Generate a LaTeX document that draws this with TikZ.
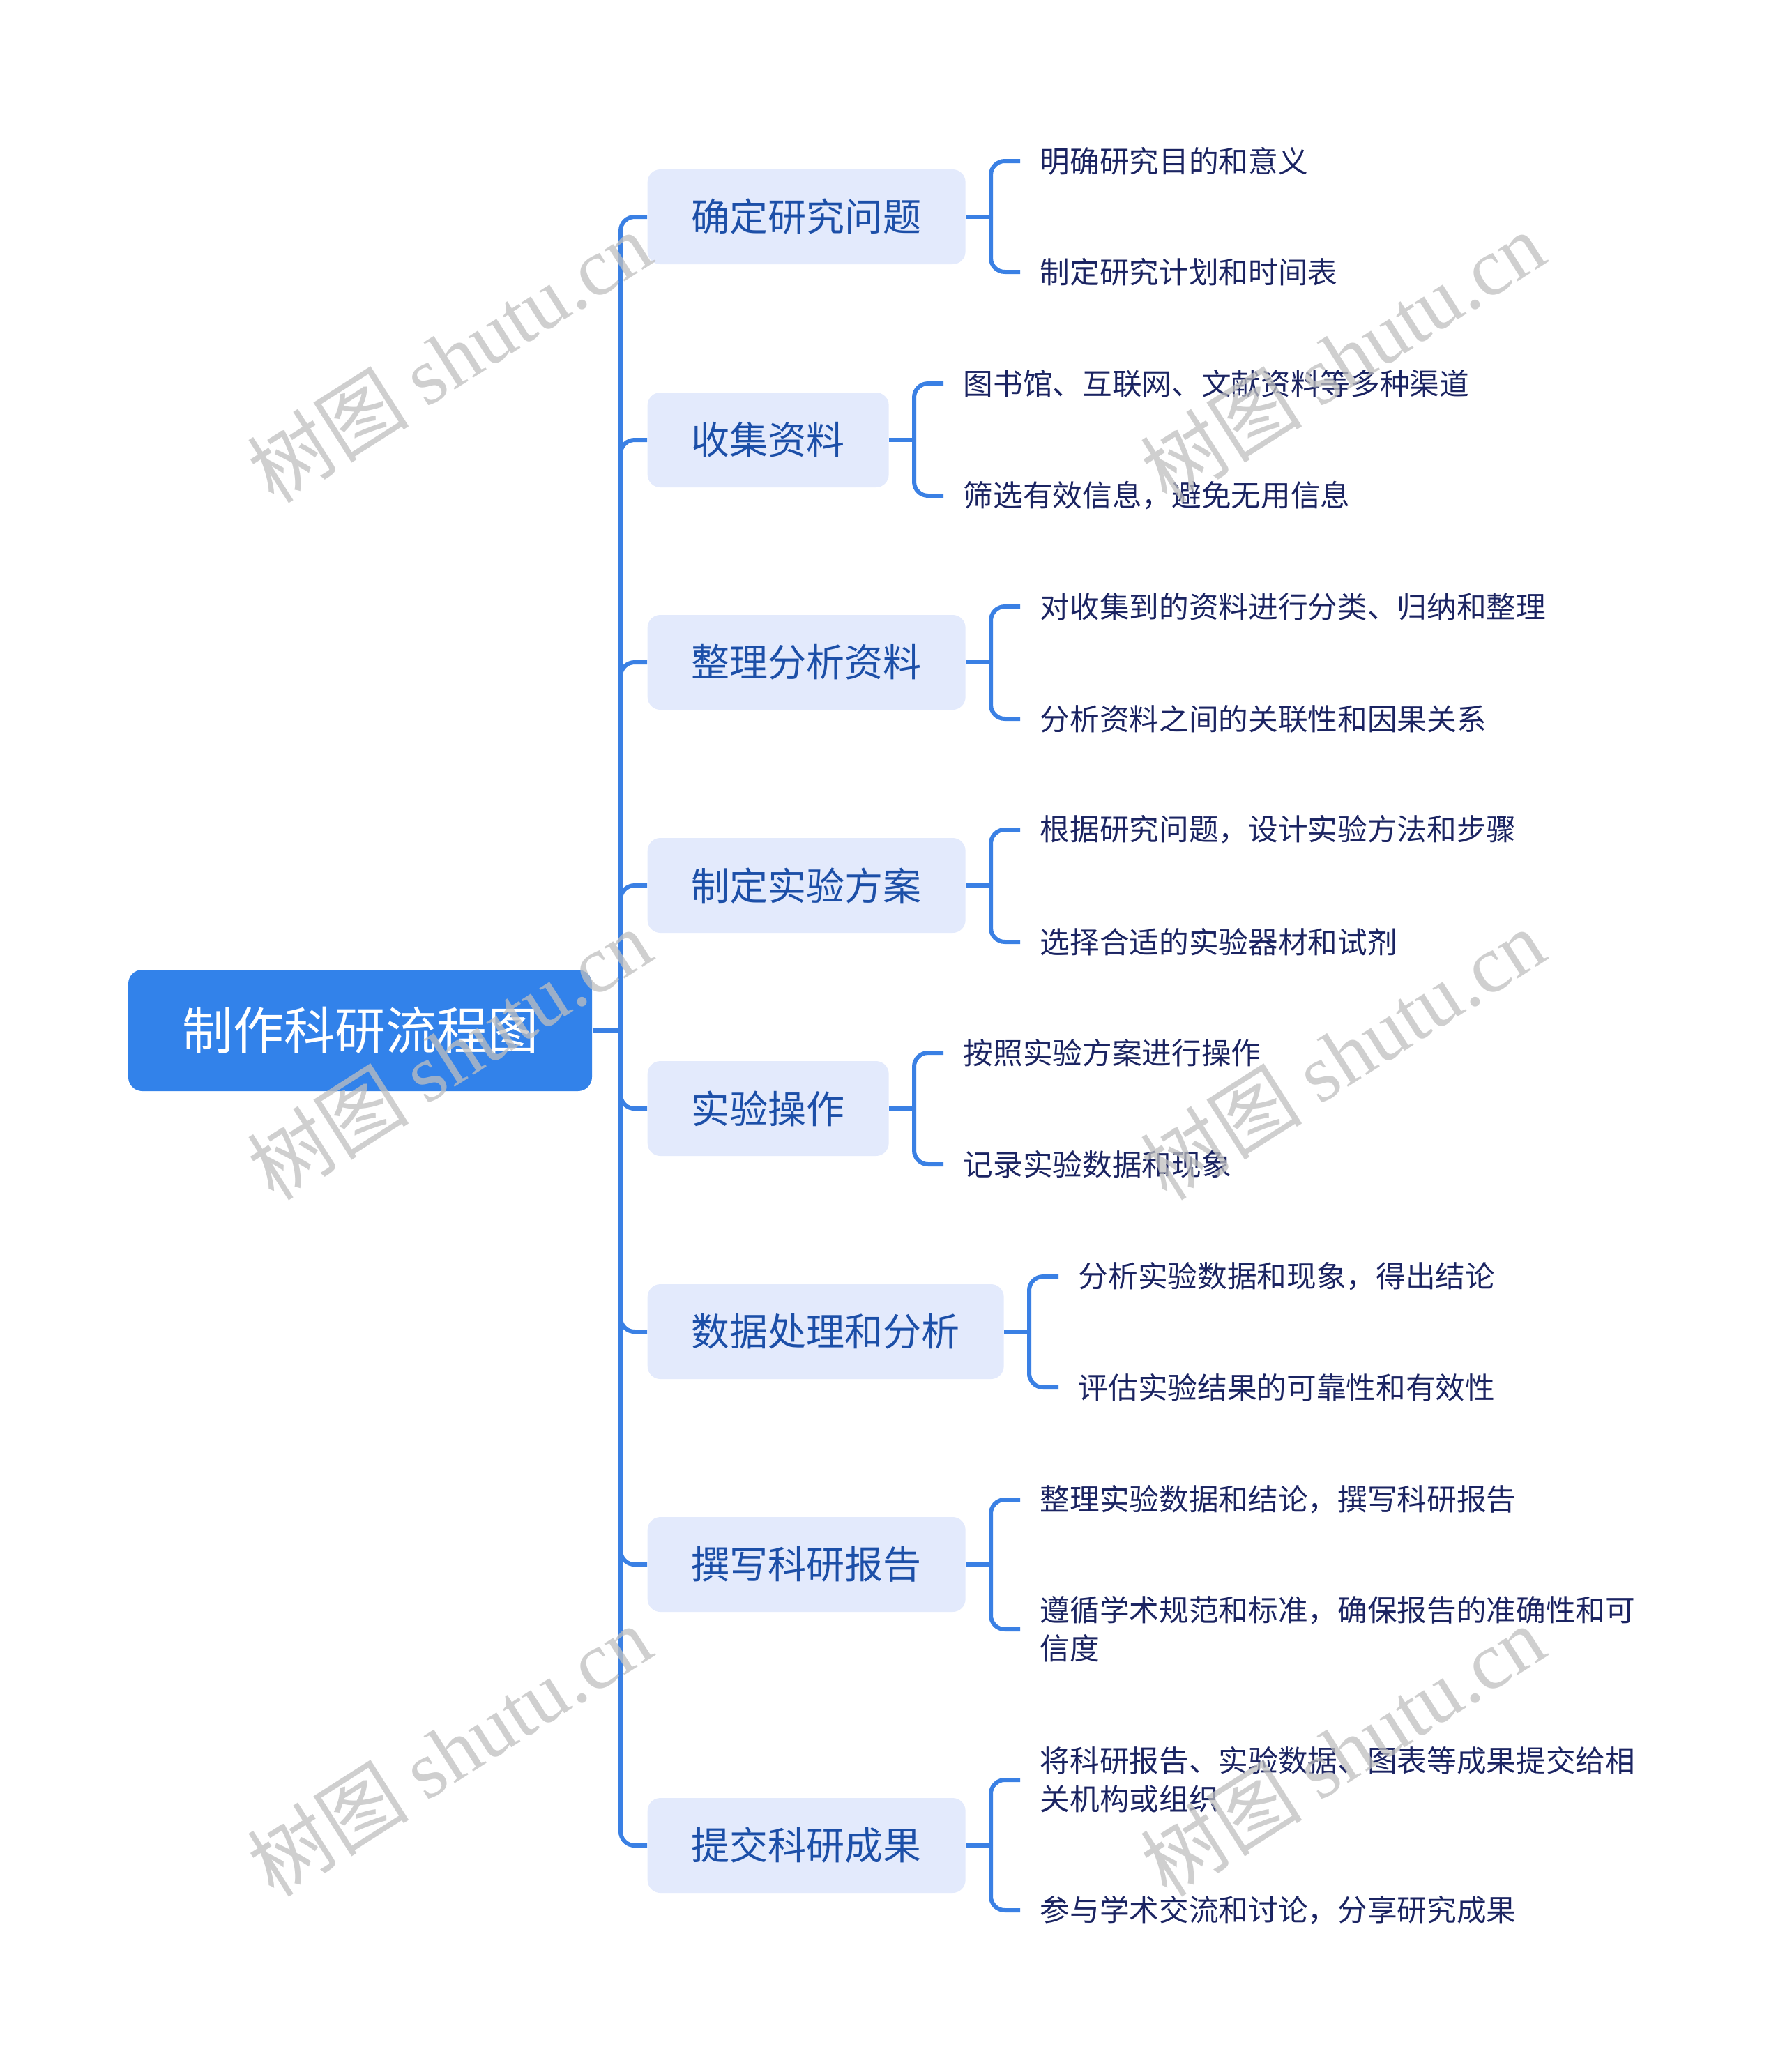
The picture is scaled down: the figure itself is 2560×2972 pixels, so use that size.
\documentclass[tikz,border=0pt]{standalone}
\usepackage{fontspec}
\setmainfont{Noto Sans CJK SC}
\newfontfamily\wmcjk{Noto Sans CJK SC}
\newfontfamily\wmlatin{Liberation Serif}
\definecolor{rootblue}{HTML}{3282EA}
\definecolor{branchfill}{HTML}{E3EAFC}
\definecolor{branchtext}{HTML}{1C4FA8}
\definecolor{leaftext}{HTML}{1B2462}
\definecolor{lineblue}{HTML}{3A80E4}
\begin{document}
\begin{tikzpicture}[x=0.3pt,y=-0.3pt,
  rootbox/.style={fill=rootblue, rounded corners=6pt, text=white,
    font=\fontsize{21.9}{26}\selectfont, minimum width=199.5pt, minimum height=52.2pt, inner sep=0pt},
  branchbox/.style={fill=branchfill, rounded corners=5.5pt, text=branchtext, anchor=west,
    font=\fontsize{16.5}{20}\selectfont, minimum height=40.8pt, inner xsep=18.9pt, inner ysep=0pt},
  leaf/.style={text=leaftext, anchor=west, align=left,
    font=\fontsize{12.8}{16.5}\selectfont, inner xsep=8.4pt, inner ysep=0pt},
  conn/.style={draw=lineblue, line width=1.8pt, rounded corners=6pt},
  wm/.style={text=black!25, opacity=0.75, rotate=32.5, font=\fontsize{35}{38}\selectfont}
]
\useasboundingbox (0,0) rectangle (2560,2972);

\node[rootbox] (root) at (516.5,1478) {制作科研流程图};

\node[branchbox] (b1) at (928,311) {确定研究问题};
\node[branchbox] (b2) at (928,631) {收集资料};
\node[branchbox] (b3) at (928,950) {整理分析资料};
\node[branchbox] (b4) at (928,1270) {制定实验方案};
\node[branchbox] (b5) at (928,1590) {实验操作};
\node[branchbox] (b6) at (928,1910) {数据处理和分析};
\node[branchbox] (b7) at (928,2244) {撰写科研报告};
\node[branchbox] (b8) at (928,2647) {提交科研成果};

\coordinate (trunk) at (890,1478);
\draw[conn] (root.east) -- (trunk);
\foreach \b in {b1,b2,b3,b4,b5,b6,b7,b8}{
  \draw[conn] (trunk) |- (\b.west);
}

\node[leaf] (l1a) at (1463,231) {明确研究目的和意义};
\node[leaf] (l1b) at (1463,390) {制定研究计划和时间表};
\node[leaf] (l2a) at (1353,550) {图书馆、互联网、文献资料等多种渠道};
\node[leaf] (l2b) at (1353,711) {筛选有效信息，避免无用信息};
\node[leaf] (l3a) at (1463,870) {对收集到的资料进行分类、归纳和整理};
\node[leaf] (l3b) at (1463,1031) {分析资料之间的关联性和因果关系};
\node[leaf] (l4a) at (1463,1190) {根据研究问题，设计实验方法和步骤};
\node[leaf] (l4b) at (1463,1351) {选择合适的实验器材和试剂};
\node[leaf] (l5a) at (1353,1510) {按照实验方案进行操作};
\node[leaf] (l5b) at (1353,1670) {记录实验数据和现象};
\node[leaf] (l6a) at (1518,1831) {分析实验数据和现象，得出结论};
\node[leaf] (l6b) at (1518,1990) {评估实验结果的可靠性和有效性};
\node[leaf] (l7a) at (1463,2151) {整理实验数据和结论，撰写科研报告};
\node[leaf] (l7b) at (1463,2337) {遵循学术规范和标准，确保报告的准确性和可\\信度};
\node[leaf] (l8a) at (1463,2553) {将科研报告、实验数据、图表等成果提交给相\\关机构或组织};
\node[leaf] (l8b) at (1463,2740) {参与学术交流和讨论，分享研究成果};

\foreach \b/\x in {b1/1421,b2/1311,b3/1421,b4/1421,b5/1311,b6/1476,b7/1421,b8/1421}{
  \draw[conn] (\b.east) -- (\x,0 |- \b.east) coordinate (k\b);
}
\foreach \b/\l in {b1/l1a,b1/l1b,b2/l2a,b2/l2b,b3/l3a,b3/l3b,b4/l4a,b4/l4b,b5/l5a,b5/l5b,b6/l6a,b6/l6b,b7/l7a,b7/l7b,b8/l8a,b8/l8b}{
  \draw[conn] (k\b) |- (\l.west);
}

\foreach \p in {(644,512),(1925,512),(644,1512),(1925,1512),(644,2511),(1925,2511)}{
  \node[wm] at \p {\wmcjk 树图 \wmlatin shutu.cn};
}
\end{tikzpicture}
\end{document}
